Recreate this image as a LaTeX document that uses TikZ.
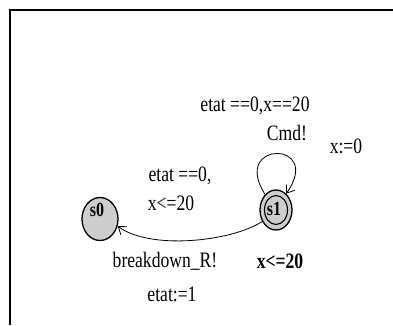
\documentclass[tikz,border=0pt]{standalone}
\usepackage{fontspec}
\setmainfont[FakeStretch=0.8]{Liberation Serif}
\usetikzlibrary{shapes.geometric,arrows.meta}
\definecolor{locfill}{RGB}{205,205,205}
\tikzset{
  loc/.style={ellipse,draw=black,line width=1.3pt,fill=locfill,minimum width=36pt,minimum height=43pt,inner sep=0pt},
  inner/.style={ellipse,draw=black,line width=1.1pt,minimum width=23pt,minimum height=29pt,inner sep=0pt},
  lbl/.style={font=\fontsize{22}{24}\selectfont,inner sep=0pt,anchor=center},
  locname/.style={font=\fontsize{20}{22}\selectfont\bfseries,inner sep=0pt},
  edge/.style={draw=black,line width=0.8pt,-{Straight Barb[length=7pt,width=10pt,line width=0.8pt]}}
}
\begin{document}
\begin{tikzpicture}[x=1pt,y=-1pt]
\useasboundingbox (0,0) rectangle (393,325);
\fill[white] (0,0) rectangle (393,325);
\draw[line width=2.5pt] (10,325) -- (10,10) -- (393,10);
% locations
\node[loc] (s0) at (100,219) {};
\node[loc,minimum width=32pt,minimum height=40pt] (s1) at (276,210) {};
\node[inner] (s1i) at (276,210) {};
\node[locname] (s0n) at (97,210) {s0};
\node[locname] (s1n) at (274,209) {s1};
% edges
\draw[edge] (s1.220) .. controls (230,242) and (150,250) .. (s0.-22);
\draw[edge] (s1.125) .. controls (230,140) and (324,140) .. (s1.58);
% labels
\node[lbl] (g1) at (255,106) {etat ==0,x==20};
\node[lbl] (c1) at (287,133) {Cmd!};
\node[lbl] (a1) at (346,146) {x:=0};
\node[lbl] (g2) at (180,176) {etat ==0,};
\node[lbl] (g3) at (171,203) {x<=20};
\node[lbl] (c2) at (165,261) {breakdown\_R!};
\node[lbl,font=\fontsize{22}{24}\selectfont\bfseries] (inv) at (280,261) {x<=20};
\node[lbl] (a2) at (172,294) {etat:=1};
\end{tikzpicture}
\end{document}
